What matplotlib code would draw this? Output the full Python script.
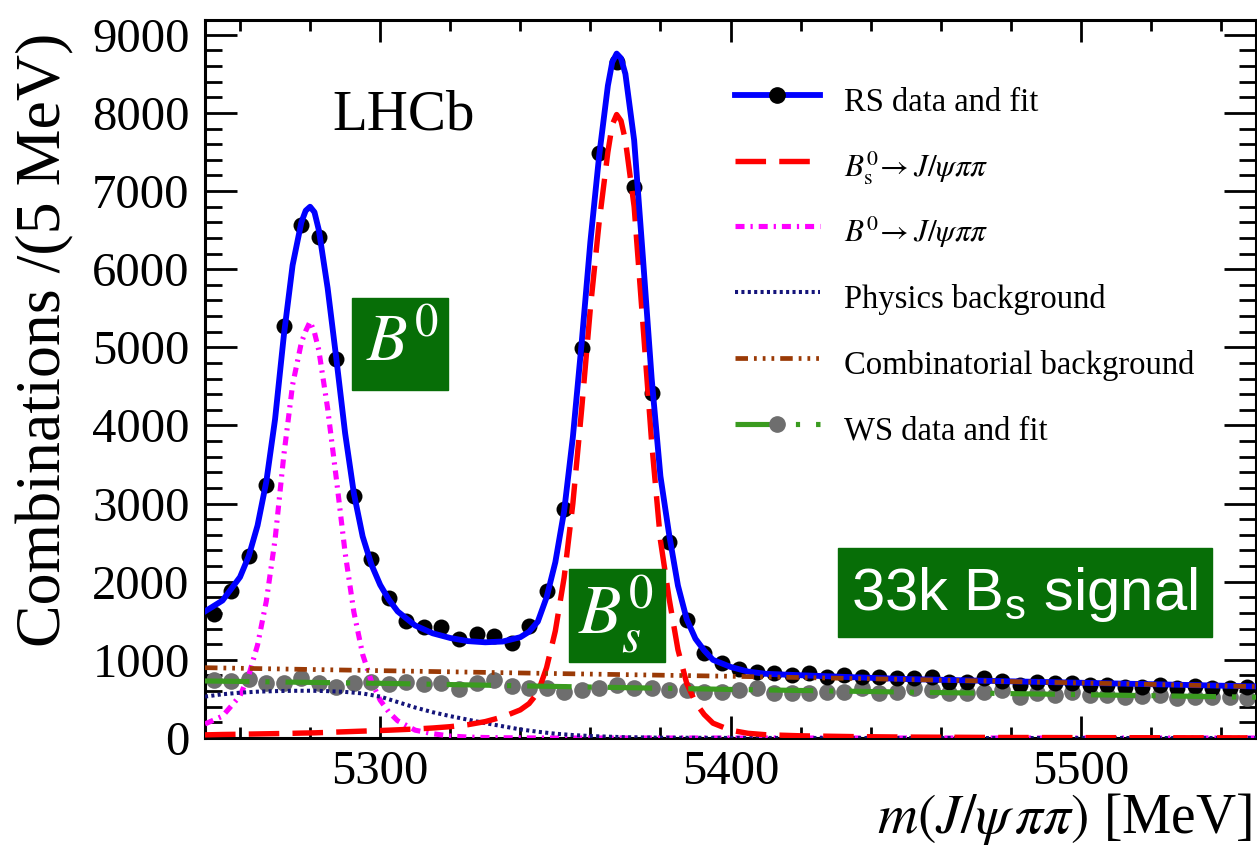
import numpy as np
import matplotlib.pyplot as plt
from matplotlib.lines import Line2D
from matplotlib.patches import Rectangle
from matplotlib.ticker import MultipleLocator

plt.rcParams['font.family'] = 'Liberation Serif'
plt.rcParams['mathtext.fontset'] = 'stix'
plt.rcParams['mathtext.rm'] = 'Liberation Sans'   # only for the 'custom' box text
plt.rcParams['lines.scale_dashes'] = False

# ---- data ----
bin_centers = np.arange(5252.5, 5550, 5.0)
rs_counts = [1590, 1880, 2330, 3240, 5275, 6570, 6415, 4850, 3100, 2290,
             1795, 1500, 1420, 1420, 1270, 1330, 1305, 1215, 1435, 1880,
             2930, 4995, 7490, 8655, 7055, 4415, 2510, 1510, 1090, 960,
             885, 845, 830, 805, 830, 780, 805, 780, 780, 765,
             765, 777, 713, 721, 764, 734, 679, 721, 700, 708,
             679, 679, 657, 657, 679, 636, 666, 636, 636, 657]
ws_counts = [743, 734, 751, 700, 708, 764, 700, 657, 708, 713,
             687, 713, 687, 700, 623, 700, 743, 670, 644, 636,
             593, 615, 636, 679, 636, 636, 615, 615, 593, 593,
             615, 636, 580, 572, 572, 593, 585, 636, 572, 593,
             636, 615, 572, 572, 593, 615, 530, 572, 551, 593,
             551, 551, 521, 538, 551, 508, 530, 521, 530, 508]

fit_mass = [5250, 5255, 5260, 5262.5, 5265, 5267.5, 5270, 5272.5, 5275, 5277.5,
            5278.75, 5280, 5281.25, 5282.5, 5285, 5287.5, 5290, 5292.5, 5295, 5297.5,
            5300, 5302.5, 5305, 5310, 5315, 5320, 5325, 5330, 5335, 5340,
            5342.5, 5345, 5347.5, 5350, 5352.5, 5355, 5357.5, 5360, 5362.5, 5365,
            5366.25, 5367.5, 5368.75, 5370, 5372.5, 5375, 5377.5, 5380, 5382.5, 5385,
            5387.5, 5390, 5392.5, 5395, 5400, 5405, 5410, 5420, 5435, 5450,
            5475, 5500, 5525, 5550]
fit_total = [1620, 1760, 2060, 2330, 2720, 3280, 4080, 5150, 6050, 6600,
             6750, 6800, 6730, 6500, 5760, 4850, 3900, 3130, 2580, 2220,
             1960, 1770, 1620, 1440, 1340, 1280, 1240, 1225, 1235, 1290,
             1360, 1490, 1800, 2250, 2900, 3850, 5050, 6350, 7450, 8350,
             8650, 8760, 8700, 8500, 7650, 6150, 4600, 3350, 2600, 1950,
             1520, 1270, 1120, 1000, 910, 850, 822, 803, 778, 755,
             730, 707, 684, 660]
fit_bs = [40, 45, 48, 50, 52, 54, 56, 58, 60, 63,
          64, 65, 66, 68, 72, 76, 80, 84, 88, 92,
          96, 100, 105, 115, 128, 145, 170, 210, 270, 360,
          440, 580, 900, 1370, 2050, 3000, 4200, 5500, 6600, 7500,
          7850, 7980, 7900, 7650, 6800, 5300, 3780, 2530, 1780, 1130,
          700, 455, 300, 190, 100, 60, 42, 28, 18, 12,
          7, 5, 3, 2]
fit_b0 = [180, 280, 540, 805, 1190, 1750, 2540, 3620, 4520, 5060,
          5210, 5330, 5190, 4960, 4220, 3315, 2370, 1610, 1070, 725,
          484, 330, 220, 100, 55, 25, 12, 6, 3, 2,
          1, 1, 0, 0, 0, 0, 0, 0, 0, 0,
          0, 0, 0, 0, 0, 0, 0, 0, 0, 0,
          0, 0, 0, 0, 0, 0, 0, 0, 0, 0,
          0, 0, 0, 0]

phys_mass = [5250, 5255, 5260, 5265, 5270, 5275, 5280, 5285, 5290, 5295,
             5300, 5305, 5310, 5315, 5320, 5325, 5330, 5335, 5340, 5345,
             5350, 5355, 5360, 5370, 5380, 5400, 5450, 5550]
phys_bkg = [530, 560, 580, 593, 600, 604, 605, 600, 590, 570,
            530, 460, 390, 330, 280, 235, 190, 150, 110, 80,
            55, 38, 25, 10, 4, 1, 0, 0]

comb_mass = [5250, 5300, 5350, 5400, 5450, 5500, 5550]
comb_bkg = [900, 862, 825, 790, 750, 705, 658]
ws_fit = [730, 700, 660, 622, 588, 555, 522]

# ---- figure ----
W, H = 1257, 848
fig = plt.figure(figsize=(W / 100, H / 100), dpi=100)
ax = fig.add_axes([205 / W, 1 - 738 / H, 1051 / W, 718 / H])

blue, red, magenta = '#0000ff', '#ff0000', '#ff00ff'
navy, brown, green, grey = '#14147a', '#9a3a06', '#3a9b1f', '#6e6e6e'

ls_bs = (0, (22, 9.5))
ls_b0 = (0, (6.5, 4.3, 1.6, 4.3))
ls_phys = (0, (2.2, 2.4))
ls_comb = (0, (9, 4.3, 2, 4.3, 2, 4.3, 2, 4.3))
ls_ws = (0, (32, 11.5, 3, 11.5))

lw_rs, lw_bs, lw_b0, lw_phys, lw_comb, lw_ws = 4.2, 3.9, 3.7, 2.9, 3.4, 3.7

ax.plot(bin_centers, ws_counts, 'o', color=grey, ms=12, mew=0, zorder=2)
ax.plot(bin_centers, rs_counts, 'o', color='black', ms=11.5, mew=0, zorder=2)
ax.plot(fit_mass, fit_b0, color=magenta, lw=lw_b0, ls=ls_b0, zorder=3)
ax.plot(phys_mass, phys_bkg, color=navy, lw=lw_phys, ls=ls_phys, zorder=3)
ax.plot(fit_mass, fit_bs, color=red, lw=lw_bs, ls=ls_bs, zorder=3)
ax.plot(fit_mass, fit_total, color=blue, lw=lw_rs, zorder=4)
ax.plot(comb_mass, comb_bkg, color=brown, lw=lw_comb, ls=ls_comb, zorder=5)
ax.plot(comb_mass, ws_fit, color=green, lw=lw_ws, ls=ls_ws, zorder=5)

ax.set_xlim(5250, 5550)
ax.set_ylim(0, 9190)
ax.xaxis.set_major_locator(MultipleLocator(100))
ax.xaxis.set_minor_locator(MultipleLocator(20))
ax.yaxis.set_major_locator(MultipleLocator(1000))
ax.yaxis.set_minor_locator(MultipleLocator(200))
ax.tick_params(which='both', direction='in', top=True, right=True, width=2, labelsize=35)
ax.tick_params(axis='y', which='major', length=23, pad=11)
ax.tick_params(axis='y', which='minor', length=12)
ax.tick_params(axis='x', which='major', length=16, pad=9)
ax.tick_params(axis='x', which='minor', length=8)
for s in ax.spines.values():
    s.set_linewidth(2.2)

def fx(x): return x / W
def fy(y): return 1 - y / H

fig.text(fx(45), fy(340), 'Combinations /(5 MeV)', rotation=90,
         ha='center', va='center', fontsize=46)
fig.text(fx(1252), fy(819), r'$m(J/\psi\,\pi\pi)$ [MeV]', ha='right',
         va='center', fontsize=40)
fig.text(fx(404), fy(115), 'LHCb', ha='center', va='center', fontsize=41)

box_green = '#076e07'
fig.add_artist(Rectangle((fx(352), fy(390)), 96 / W, 92 / H,
                         transform=fig.transFigure, color=box_green))
fig.text(fx(402), fy(344), r'$B^0$', ha='center', va='center',
         fontsize=48, color='white')
fig.add_artist(Rectangle((fx(569), fy(662)), 96 / W, 93 / H,
                         transform=fig.transFigure, color=box_green))
fig.text(fx(616), fy(614), r'$B_s^0$', ha='center', va='center',
         fontsize=50, color='white')
fig.add_artist(Rectangle((fx(838), fy(637)), 374 / W, 89 / H,
                         transform=fig.transFigure, color=box_green))
fig.text(fx(1024), fy(594), r'33k B$_{\rm s}$ signal', ha='center', va='center',
         fontsize=43, color='white', family='Liberation Sans',
         math_fontfamily='custom')

handles = [
    Line2D([], [], color=blue, lw=lw_rs, marker='o', mfc='black', mec='black', ms=11),
    Line2D([], [], color=red, lw=lw_bs, ls=ls_bs),
    Line2D([], [], color=magenta, lw=lw_b0, ls=ls_b0),
    Line2D([], [], color=navy, lw=lw_phys, ls=ls_phys),
    Line2D([], [], color=brown, lw=lw_comb, ls=ls_comb),
    Line2D([], [], color=green, lw=lw_ws, ls=ls_ws, marker='o', mfc=grey, mec=grey, ms=11),
]
labels = ['RS data and fit',
          r'$B^0_{\rm s}\!\rightarrow J/\psi\pi\pi$',
          r'$B^0\!\rightarrow J/\psi\pi\pi$',
          'Physics background',
          'Combinatorial background',
          'WS data and fit']
leg = ax.legend(handles, labels, loc='upper left', bbox_to_anchor=(fx(735), fy(79)),
                bbox_transform=fig.transFigure, frameon=False, fontsize=23.5,
                borderpad=0, borderaxespad=0, handlelength=2.6, handletextpad=0.75,
                handleheight=1.6, labelspacing=0.73, numpoints=1)
for t in leg.get_texts()[1:3]:
    t.set_fontsize(22.5)

fig.savefig('out.png', dpi=100)
